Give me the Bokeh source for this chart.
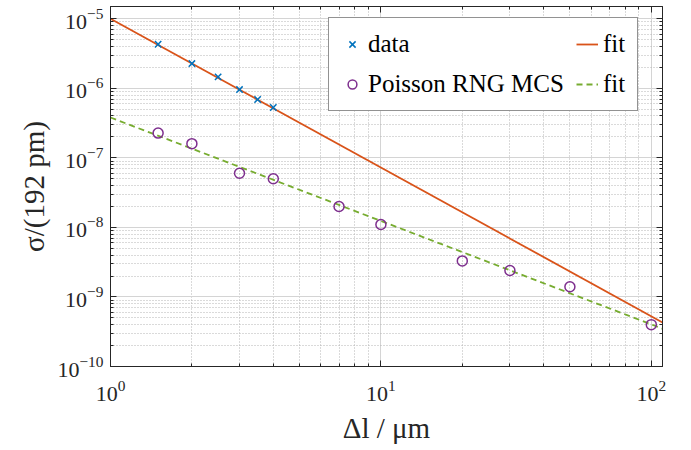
from bokeh.plotting import figure
from bokeh.models import (LogAxis, FixedTicker, Legend, LegendItem, Range1d,
                          CustomJSTickFormatter)
from bokeh.embed import file_html
from bokeh.resources import INLINE

# ---- data ----
data_x = [1.5, 2, 2.5, 3, 3.5, 4]
data_y = [4.3e-6, 2.27e-6, 1.46e-6, 9.6e-7, 6.9e-7, 5.3e-7]

mcs_x = [1.5, 2, 3, 4, 7, 10, 20, 30, 50, 100]
mcs_y = [2.27e-7, 1.6e-7, 6.0e-8, 5.0e-8, 2.0e-8, 1.1e-8, 3.3e-9, 2.4e-9, 1.4e-9, 4.0e-10]

fit_x = [1, 110]
fit_data_y = [1.0e-5, 4.3e-10]
fit_mcs_y = [3.8e-7, 3.5e-10]

x_major = [1, 10, 100]
y_major = [1e-10, 1e-9, 1e-8, 1e-7, 1e-6, 1e-5]

x_label = "Δl / μm"
y_label = "σ/(192 pm)"

FONT = "'Liberation Serif', serif"
AX = "#262626"

x_minor = [m * d for d in x_major for m in range(2, 10)]
y_minor = [m * d for d in y_major for m in range(2, 10)]

p = figure(width=691, height=450, x_axis_type="log", y_axis_type="log",
           x_range=Range1d(1, 110), y_range=Range1d(1e-10, 1.5e-5),
           output_backend="svg", toolbar_location=None,
           min_border_left=110, min_border_right=29, min_border_top=6,
           min_border_bottom=84)
p.outline_line_color = AX
p.outline_line_width = 1
p.background_fill_color = "white"
p.border_fill_color = "white"

xt = FixedTicker(ticks=x_major, minor_ticks=x_minor)
yt = FixedTicker(ticks=y_major, minor_ticks=y_minor)
p.xaxis.ticker = xt
p.yaxis.ticker = yt

for ax in (p.xaxis[0], p.yaxis[0]):
    ax.axis_line_color = AX
    ax.major_tick_line_color = AX
    ax.minor_tick_line_color = AX
    ax.major_tick_in = 6
    ax.major_tick_out = 0
    ax.minor_tick_in = 3
    ax.minor_tick_out = 0
    ax.major_label_text_font = FONT
    ax.major_label_text_font_size = "22px"
    ax.major_label_text_color = "#262626"
    ax.axis_label_text_font = FONT
    ax.axis_label_text_font_size = "29px"
    ax.axis_label_text_font_style = "normal"
    ax.axis_label_text_color = "#262626"

p.xaxis.axis_label = x_label
p.yaxis.axis_label = y_label
p.xaxis.major_label_standoff = 14
p.yaxis.major_label_standoff = 7
p.xaxis.axis_label_standoff = 8
p.yaxis.axis_label_standoff = 4

blank = CustomJSTickFormatter(code="return ''")
for loc, tk in (("right", yt), ("above", xt)):
    a = LogAxis(ticker=tk, formatter=blank, major_label_text_font_size="0px",
                major_label_standoff=0, axis_line_color=AX,
                major_tick_line_color=AX, minor_tick_line_color=AX,
                major_tick_in=6, major_tick_out=0, minor_tick_in=3, minor_tick_out=0)
    p.add_layout(a, loc)

for g in (p.xgrid[0], p.ygrid[0]):
    g.grid_line_color = "#d4d4d4"
    g.grid_line_width = 1
    g.minor_grid_line_color = "#b4b4b4"
    g.minor_grid_line_dash = "1 2"
    g.minor_grid_line_width = 1
p.xgrid.ticker = xt
p.ygrid.ticker = yt

r_fit1 = p.line(fit_x, fit_data_y, line_color="#D95319", line_width=1.8)
r_fit2 = p.line(fit_x, fit_mcs_y, line_color="#77AC30", line_width=1.8,
                line_dash="6 4")
r_data = p.scatter(data_x, data_y, marker="x", size=9, line_color="#0072BD",
                   line_width=1.5)
r_mcs = p.scatter(mcs_x, mcs_y, marker="circle", size=10, fill_color=None,
                  line_color="#7E2F8E", line_width=1.5)

legend = Legend(items=[
    LegendItem(label="data", renderers=[r_data]),
    LegendItem(label="Poisson RNG MCS", renderers=[r_mcs]),
    LegendItem(label="fit", renderers=[r_fit1]),
    LegendItem(label="fit", renderers=[r_fit2]),
], ncols=2, location=(218, 255))
legend.label_text_font = FONT
legend.label_text_font_size = "25px"
legend.label_text_color = "#000000"
legend.border_line_color = AX
legend.border_line_width = 1
legend.background_fill_color = "white"
legend.background_fill_alpha = 1
legend.glyph_width = 22
legend.glyph_height = 28
legend.label_height = 28
legend.label_standoff = 5
legend.padding = 12
legend.spacing = 12
legend.margin = 0
p.add_layout(legend, "center")

open("out.html", "w").write(file_html(p, INLINE))
